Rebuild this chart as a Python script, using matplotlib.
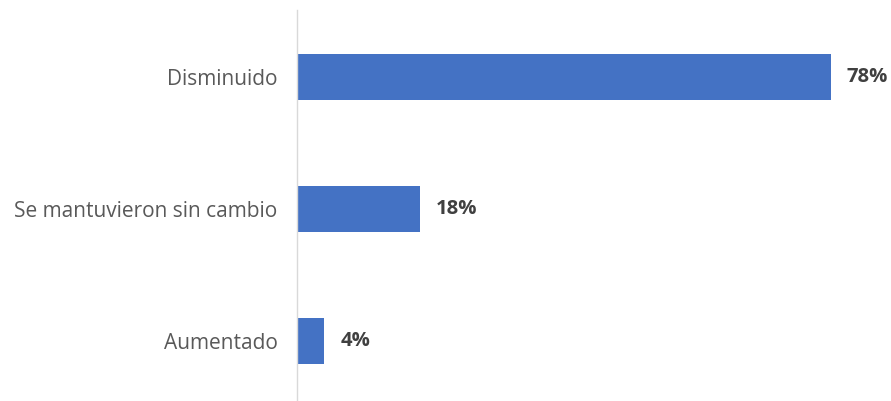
import matplotlib.pyplot as plt

categories = ["Disminuido", "Se mantuvieron sin cambio", "Aumentado"]
values = [78, 18, 4]
value_labels = ["78%", "18%", "4%"]

plt.rcParams['font.family'] = ['Open Sans', 'DejaVu Sans']

fig = plt.figure(figsize=(8.91, 4.01), dpi=100)
ax = fig.add_axes([297 / 891, 1 - 400 / 401, 589 / 891, 390 / 401])

pos = list(range(len(categories)))
ax.barh(pos, values, height=0.35, color='#4472C4')

# bold percentage next to each bar end
for p, v, lab in zip(pos, values, value_labels):
    ax.text(v + 2.3, p, lab, va='center', ha='left', fontsize=14.6,
            fontweight='bold', color='#404040')

ax.set_xlim(0, 86)
ax.set_ylim(2.447, -0.508)
ax.set_yticks(pos)
ax.set_yticklabels(categories, fontsize=15, color='#595959')
ax.tick_params(axis='y', length=0, pad=14)
ax.set_xticks([])

for side in ['top', 'right', 'bottom']:
    ax.spines[side].set_visible(False)
ax.spines['left'].set_color('#D9D9D9')
ax.spines['left'].set_linewidth(1)

fig.savefig('out.png', dpi=100)
